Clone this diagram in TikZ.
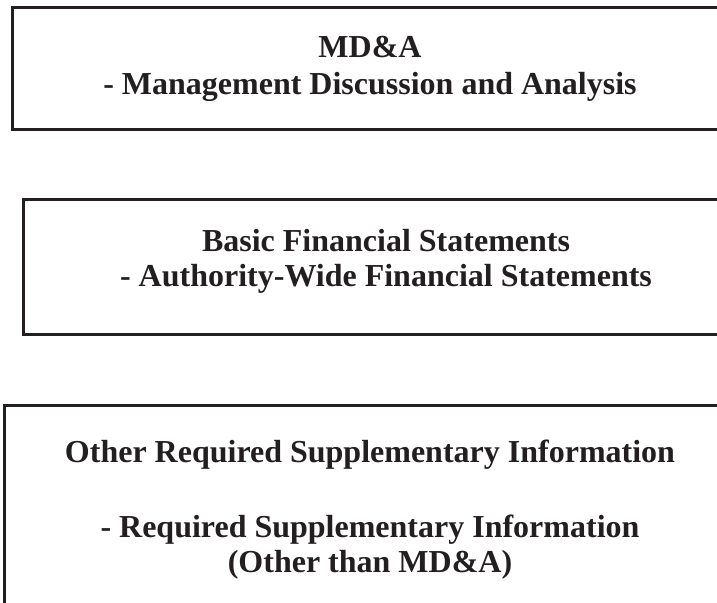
\documentclass[tikz,border=0pt]{standalone}
\usepackage{fontspec}
\setmainfont{Liberation Serif}
\definecolor{ink}{RGB}{35,31,32}
\begin{document}
\begin{tikzpicture}[x=1pt,y=-1pt,
  frame/.style={draw=ink,line width=3pt},
  label/.style={anchor=base,inner sep=0pt,text=ink,font=\fontsize{32}{36}\selectfont\bfseries}]
\useasboundingbox (0,0) rectangle (717,602);
\clip (0,0) rectangle (717,602);
% boxes
\coordinate (b1nw) at (12.5,7.5);   \coordinate (b1se) at (728,129.5);
\coordinate (b2nw) at (23.5,199.5); \coordinate (b2se) at (748,334.5);
\coordinate (b3nw) at (4.5,405.5);  \coordinate (b3se) at (736,640);
\draw[frame] (b1nw) rectangle (b1se);
\draw[frame] (b2nw) rectangle (b2se);
\draw[frame] (b3nw) rectangle (b3se);
% texts
\node[label] (t1a) at (370,57) {MD\&A};
\node[label] (t1b) at (370,94) {- Management Discussion and Analysis};
\node[label] (t2a) at (386,251) {Basic Financial Statements};
\node[label] (t2b) at (386,286) {- Authority-Wide Financial Statements};
\node[label] (t3a) at (370,462) {Other Required Supplementary Information};
\node[label] (t3b) at (370,537) {- Required Supplementary Information};
\node[label] (t3c) at (370,572) {(Other than MD\&A)};
\end{tikzpicture}
\end{document}
